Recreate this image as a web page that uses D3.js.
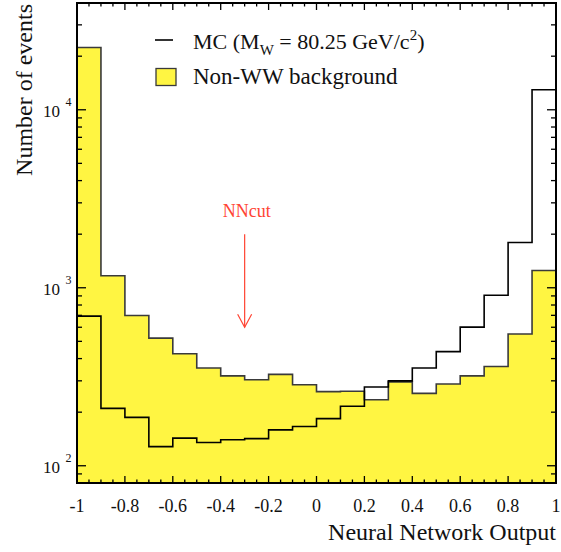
<!DOCTYPE html>
<html>
<head>
<meta charset="utf-8">
<script src="https://cdn.jsdelivr.net/npm/d3@7"></script>
<style>
  body { margin: 0; background: #fff; }
  text { font-family: "Liberation Serif", "Times New Roman", serif; fill: #111; }
</style>
</head>
<body>
<div id="chart"></div>
<script>
// bin lower edges (width 0.1)
const binLow = [-1, -0.9, -0.8, -0.7, -0.6, -0.5, -0.4, -0.3, -0.2, -0.1,
  0, 0.1, 0.2, 0.3, 0.4, 0.5, 0.6, 0.7, 0.8, 0.9];
const binWidth = 0.1;

// Non-WW background (yellow)
const bgValues = [22400, 1167, 698, 521, 426, 354, 320, 304, 326, 285,
  261, 262, 235, 296, 255, 288, 320, 361, 550, 1250];

// MC (M_W = 80.25) line
const mcValues = [693, 210, 187, 128, 143, 135, 140, 142, 159, 166,
  184, 216, 277, 300, 354, 438, 601, 908, 1795, 12950];

const xTickValues = [-1, -0.8, -0.6, -0.4, -0.2, 0, 0.2, 0.4, 0.6, 0.8, 1];
const xTickLabels = ['-1', '-0.8', '-0.6', '-0.4', '-0.2', '0', '0.2', '0.4', '0.6', '0.8', '1'];
const yDecades = [100, 1000, 10000];
const yExponents = ['2', '3', '4'];

const nnCut = -0.3;
const arrowFrom = 2000;
const arrowTo = 600;

const width = 561;
const height = 552;
const margin = { left: 77, right: 5, top: 3, bottom: 69 };

const svg = d3.select('#chart')
  .append('svg')
  .attr('width', width)
  .attr('height', height);

const x = d3.scaleLinear()
  .domain([-1, 1])
  .range([margin.left, width - margin.right]);

const y = d3.scaleLog()
  .domain([80, 39800])
  .range([height - margin.bottom, margin.top]);

svg.append('clipPath')
  .attr('id', 'clip')
  .append('rect')
  .attr('x', x(-1))
  .attr('y', y(39800))
  .attr('width', x(1) - x(-1))
  .attr('height', y(80) - y(39800));

const plot = svg.append('g').attr('clip-path', 'url(#clip)');

// step points for a histogram
const stepPoints = vals => {
  let pts = [];
  vals.forEach((v, i) => {
    pts.push([binLow[i], v]);
    pts.push([binLow[i] + binWidth, v]);
  });
  return pts;
};

const line = d3.line()
  .x(d => x(d[0]))
  .y(d => y(d[1]));

const area = d3.area()
  .x(d => x(d[0]))
  .y0(y(80))
  .y1(d => y(d[1]));

const bgPts = stepPoints(bgValues);
const mcPts = stepPoints(mcValues);

plot.append('path')
  .datum(bgPts)
  .attr('d', area)
  .attr('fill', '#fff542');

plot.append('path')
  .datum(bgPts)
  .attr('d', line)
  .attr('fill', 'none')
  .attr('stroke', '#3a3a3a')
  .attr('stroke-width', 1.6);

plot.append('path')
  .datum(mcPts)
  .attr('d', line)
  .attr('fill', 'none')
  .attr('stroke', '#000')
  .attr('stroke-width', 1.6);

// ticks
const ticks = svg.append('g').attr('stroke', '#000').attr('stroke-width', 1.3);
const xMinor = d3.range(0, 41).map(i => -1 + i * 0.05);
xMinor.forEach((v, i) => {
  const len = i % 4 === 0 ? 7 : 3.5;
  ticks.append('line')
    .attr('x1', x(v)).attr('x2', x(v))
    .attr('y1', y(80)).attr('y2', y(80) - len);
  ticks.append('line')
    .attr('x1', x(v)).attr('x2', x(v))
    .attr('y1', y(39800)).attr('y2', y(39800) + len);
});

let yMinor = [];
[10, 100, 1000, 10000].forEach(d => {
  for (let k = 1; k < 10; k++) {
    const v = d * k;
    if (v >= 80 && v <= 39800) yMinor.push({ v: v, major: k === 1 });
  }
});
yMinor.forEach(t => {
  const len = t.major ? 9 : 5;
  ticks.append('line')
    .attr('x1', x(-1)).attr('x2', x(-1) + len)
    .attr('y1', y(t.v)).attr('y2', y(t.v));
  ticks.append('line')
    .attr('x1', x(1)).attr('x2', x(1) - len)
    .attr('y1', y(t.v)).attr('y2', y(t.v));
});

// frame
svg.append('rect')
  .attr('x', x(-1))
  .attr('y', y(39800))
  .attr('width', x(1) - x(-1))
  .attr('height', y(80) - y(39800))
  .attr('fill', 'none')
  .attr('stroke', '#000')
  .attr('stroke-width', 2);

// x tick labels
svg.append('g')
  .selectAll('text')
  .data(xTickValues)
  .enter()
  .append('text')
  .attr('x', d => x(d))
  .attr('y', 512)
  .attr('text-anchor', 'middle')
  .style('font-size', '18px')
  .text((d, i) => xTickLabels[i]);

// y tick labels: 10^n
const yLab = svg.append('g')
  .selectAll('g')
  .data(yDecades)
  .enter()
  .append('g');
yLab.append('text')
  .attr('x', 60)
  .attr('y', d => y(d) + 7)
  .attr('text-anchor', 'end')
  .style('font-size', '17px')
  .text('10');
yLab.append('text')
  .attr('x', 65.5)
  .attr('y', d => y(d) - 4)
  .style('font-size', '12px')
  .text((d, i) => yExponents[i]);

// axis titles
svg.append('text')
  .attr('x', x(1))
  .attr('y', 540)
  .attr('text-anchor', 'end')
  .style('font-size', '24px')
  .text('Neural Network Output');

svg.append('text')
  .attr('transform', 'translate(32,4) rotate(-90)')
  .attr('text-anchor', 'end')
  .style('font-size', '24px')
  .text('Number of events');

// legend
const legend = svg.append('g');
legend.append('line')
  .attr('x1', 155).attr('x2', 173)
  .attr('y1', 40).attr('y2', 40)
  .attr('stroke', '#000')
  .attr('stroke-width', 1.6);
const mcText = legend.append('text')
  .attr('x', 193)
  .attr('y', 49)
  .style('font-size', '22px');
mcText.append('tspan').text('MC (M');
mcText.append('tspan').attr('dy', 6).style('font-size', '15px').text('W');
mcText.append('tspan').attr('dy', -6).text(' = 80.25 GeV/c');
mcText.append('tspan').attr('dy', -9).style('font-size', '15px').text('2');
mcText.append('tspan').attr('dy', 9).text(')');

legend.append('rect')
  .attr('x', 156).attr('y', 68.5)
  .attr('width', 20).attr('height', 17)
  .attr('fill', '#fff542')
  .attr('stroke', '#3a3a3a')
  .attr('stroke-width', 1.3);
legend.append('text')
  .attr('x', 193)
  .attr('y', 84)
  .style('font-size', '23px')
  .text('Non-WW background');

// NN cut arrow
const red = '#ff4433';
const ax = x(nnCut);
const a1 = y(arrowFrom);
const a2 = y(arrowTo);
svg.append('line')
  .attr('x1', ax).attr('x2', ax)
  .attr('y1', a1).attr('y2', a2)
  .attr('stroke', red)
  .attr('stroke-width', 1.2);
svg.append('path')
  .attr('d', `M${ax - 7},${a2 - 13}L${ax},${a2}L${ax + 7},${a2 - 13}`)
  .attr('fill', 'none')
  .attr('stroke', red)
  .attr('stroke-width', 1.2);
svg.append('text')
  .attr('x', ax + 2)
  .attr('y', a1 - 17)
  .attr('text-anchor', 'middle')
  .style('font-size', '18px')
  .style('fill', red)
  .text('NNcut');
</script>
</body>
</html>
